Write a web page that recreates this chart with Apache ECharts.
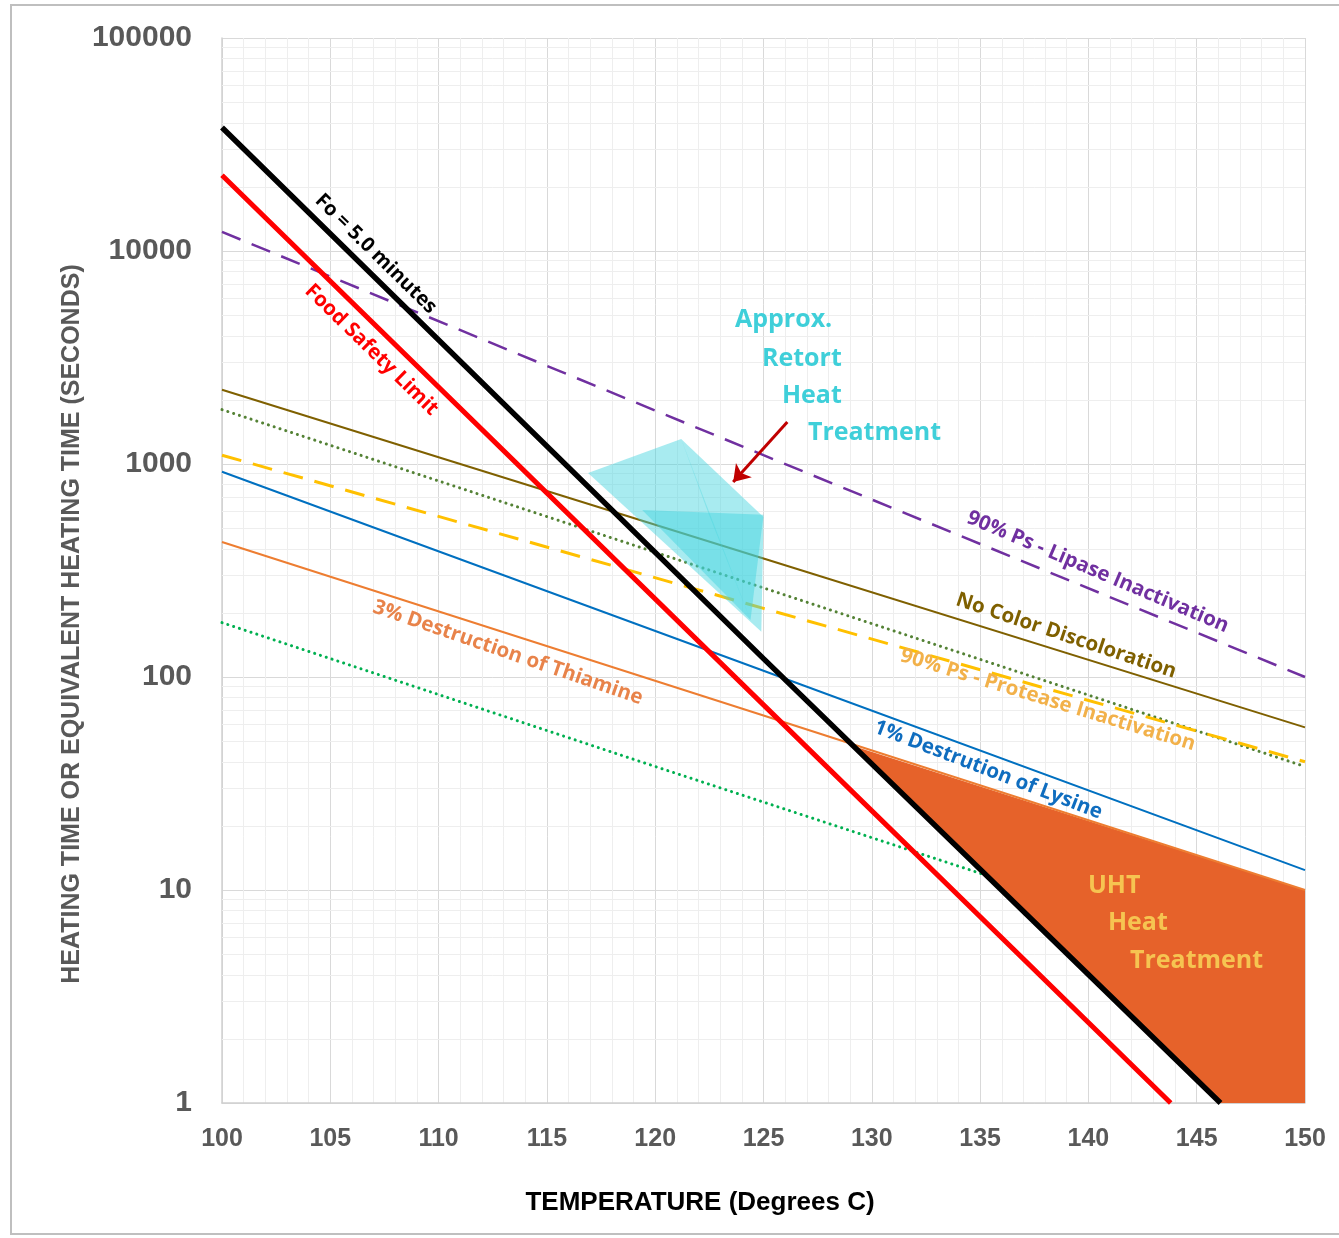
<!DOCTYPE html>
<html><head><meta charset="utf-8">
<script src="https://cdn.jsdelivr.net/npm/echarts@6/dist/echarts.min.js"></script>
<style>html,body{margin:0;padding:0;background:#fff}#c{width:1339px;height:1238px}</style>
</head><body><div id="c"></div>
<script>
// ---- data ----
const xTicks = [100,105,110,115,120,125,130,135,140,145,150];
const yTicks = [1,10,100,1000,10000,100000];
const foLine      = [[100,38000],[125,122],[146.1,1]];
const safetyLine  = [[100,22700],[125,74],[143.8,1]];
const lipase      = [[100,12300],[125,1100],[150,100]];
const colorLine   = [[100,2230],[125,360],[150,58]];
const dottedUpper = [[100,1800],[125,262],[150,38]];
const protease    = [[100,1100],[125,210],[150,40]];
const lysine      = [[100,920],[125,107],[150,12.4]];
const thiamine    = [[100,430],[125,66],[150,10]];
const dottedLower = [[100,180],[120,38],[135.2,11.8]];
const uhtRegion   = [[129.0,48],[150,10],[150,1],[146.1,1]];
const retortOuter = [[116.9,908],[121.2,1310],[125.0,564],[124.9,163]];
const retortInner = [[119.4,608],[125.0,577],[124.4,185]];
const retortSliver= [[121.2,1310],[122.4,608],[124.4,185]];
const arrowLine   = [[126.1,1574],[123.6,823]];

const minorY = [];
[1,10,100,1000,10000].forEach(d => { for (let k=2;k<=9;k++) minorY.push(d*k); });

const LBL = '"Open Sans", Lato, sans-serif';
const annotations = [
  {text:'Fo = 5.0 minutes', at:[107.1,9680], rot:44.4, color:'#000000', size:20, align:'center'},
  {text:'Food Safety Limit', at:[106.9,3430], rot:44.4, color:'#FF0000', size:20.5, align:'center'},
  {text:'90% Ps - Lipase Inactivation', at:[140.44,311], rot:23, color:'#7030A0', size:20.5, align:'center'},
  {text:'No Color Discoloration', at:[138.97,156], rot:18.5, color:'#7F6000', size:20.5, align:'center'},
  {text:'90% Ps - Protease Inactivation', at:[138.13,78], rot:17, color:'#F2B14A', size:20.5, align:'center'},
  {text:'1% Destrution of Lysine', at:[135.37,36.6], rot:21, color:'#0F6DBF', size:20.5, align:'center'},
  {text:'3% Destruction of Thiamine', at:[113.2,130], rot:19, color:'#E8834A', size:20.5, align:'center'},
  {text:'Approx.', at:[123.68,4740], rot:0, color:'#3FCFD9', size:25, align:'left'},
  {text:'Retort', at:[124.93,3110], rot:0, color:'#3FCFD9', size:25, align:'left'},
  {text:'Heat', at:[125.85,2085], rot:0, color:'#3FCFD9', size:25, align:'left'},
  {text:'Treatment', at:[127.05,1400], rot:0, color:'#3FCFD9', size:25, align:'left'},
  {text:'UHT', at:[139.98,10.5], rot:0, color:'#F6C451', size:25, align:'left'},
  {text:'Heat', at:[140.9,7.0], rot:0, color:'#F6C451', size:25, align:'left'},
  {text:'Treatment', at:[141.92,4.64], rot:0, color:'#F6C451', size:25, align:'left'}
];

function lineSeries(name, data, color, width, type, z, cap) {
  return {type:'line', name, data, z, silent:true, symbol:'none', animation:false,
    lineStyle:{color, width, type, cap: cap || 'butt'}};
}
function polySeries(name, pts, color, opacity, z) {
  return {type:'custom', name, z, silent:true, animation:false, clip:true,
    data:[pts[0]],
    renderItem:(params, api) => ({type:'polygon',
      shape:{points: pts.map(p => api.coord(p))},
      style:{fill:color, opacity}})};
}

const chart = echarts.init(document.getElementById('c'), null, {renderer:'canvas'});
const option = {
  animation:false,
  backgroundColor:'#ffffff',
  grid:{left:222, top:38, right:34, bottom:135, containLabel:false},
  xAxis:{type:'value', min:xTicks[0], max:xTicks[xTicks.length-1], interval:5,
    axisLine:{show:true, lineStyle:{color:'#D0D0D0', width:1.5}},
    axisTick:{show:false},
    axisLabel:{margin:24, color:'#595959', fontFamily:'"Liberation Sans Narrow", sans-serif', fontWeight:'bold', fontSize:25,
      formatter: v => String(v)},
    splitLine:{show:true, lineStyle:{color:'#D9D9D9', width:1}},
    minorTick:{show:false, splitNumber:5},
    minorSplitLine:{show:true, lineStyle:{color:'#EEEEEE', width:1}}},
  yAxis:{type:'log', logBase:10, min:yTicks[0], max:yTicks[yTicks.length-1], splitNumber:5,
    axisLine:{show:true, lineStyle:{color:'#D0D0D0', width:1.5}},
    axisTick:{show:false},
    axisLabel:{margin:30, color:'#595959', fontFamily:'"Liberation Sans", Arial, sans-serif', fontWeight:'bold', fontSize:30,
      formatter: v => String(Math.round(v))},
    splitLine:{show:true, lineStyle:{color:'#D9D9D9', width:1}}},
  series:[
    {type:'line', name:'minor', data:[], z:1, silent:true,
      markLine:{silent:true, z:1, symbol:['none','none'], label:{show:false}, animation:false,
        lineStyle:{color:'#EEEEEE', width:1, type:'solid'},
        emphasis:{disabled:true},
        data: minorY.map(v => ({yAxis:v}))}},
    lineSeries('dottedLower', dottedLower, '#00B050', 3, [0.1,6], 3, 'round'),
    polySeries('uht', uhtRegion, '#E6622A', 1, 4),
    lineSeries('lipase', lipase, '#7030A0', 2.5, [20,12], 5),
    lineSeries('color', colorLine, '#7F6000', 2, 'solid', 5),
    lineSeries('dottedUpper', dottedUpper, '#548235', 3, [0.1,6], 5, 'round'),
    lineSeries('protease', protease, '#FFC000', 3, [20,12], 5),
    lineSeries('lysine', lysine, '#0070C0', 2, 'solid', 5),
    lineSeries('thiamine', thiamine, '#ED7D31', 2, 'solid', 5),
    lineSeries('safety', safetyLine, '#FF0000', 5, 'solid', 6),
    lineSeries('fo', foLine, '#000000', 5.5, 'solid', 6),
    polySeries('retortOuter', retortOuter, '#3FD3DD', 0.45, 7),
    polySeries('retortInner', retortInner, '#3FD3DD', 0.45, 7),
    polySeries('retortSliver', retortSliver, '#3FD3DD', 0.35, 7),
    {type:'lines', coordinateSystem:'cartesian2d', z:8, silent:true, animation:false,
      symbol:['none','arrow'], symbolSize:[0,16],
      lineStyle:{color:'#C00000', width:3, opacity:1, curveness:0},
      data:[{coords: arrowLine}]}
  ]
};
chart.setOption(option);

const g = [
  {type:'rect', shape:{x:11, y:5, width:1340, height:1229}, style:{fill:null, stroke:'#BFBFBF', lineWidth:2}, silent:true, z:-1},
  {type:'text', x:72, y:624, rotation:Math.PI/2, silent:true,
    style:{text:'HEATING TIME OR EQUIVALENT HEATING TIME (SECONDS)', fill:'#595959',
      font:'bold 25px "Liberation Sans Narrow", sans-serif', align:'center', verticalAlign:'middle'}},
  {type:'text', x:700, y:1203, silent:true,
    style:{text:'TEMPERATURE (Degrees C)', fill:'#000000',
      font:'bold 26px "Liberation Sans Narrow", sans-serif', align:'center', verticalAlign:'middle'}}
];
annotations.forEach(a => {
  const p = chart.convertToPixel({gridIndex:0}, a.at);
  g.push({type:'text', x:p[0], y:p[1], rotation:-a.rot*Math.PI/180, silent:true, z:20,
    style:{text:a.text, fill:a.color, font:'bold '+a.size+'px '+LBL, align:a.align, verticalAlign:'middle'}});
});
chart.setOption({graphic:g});
</script></body></html>
